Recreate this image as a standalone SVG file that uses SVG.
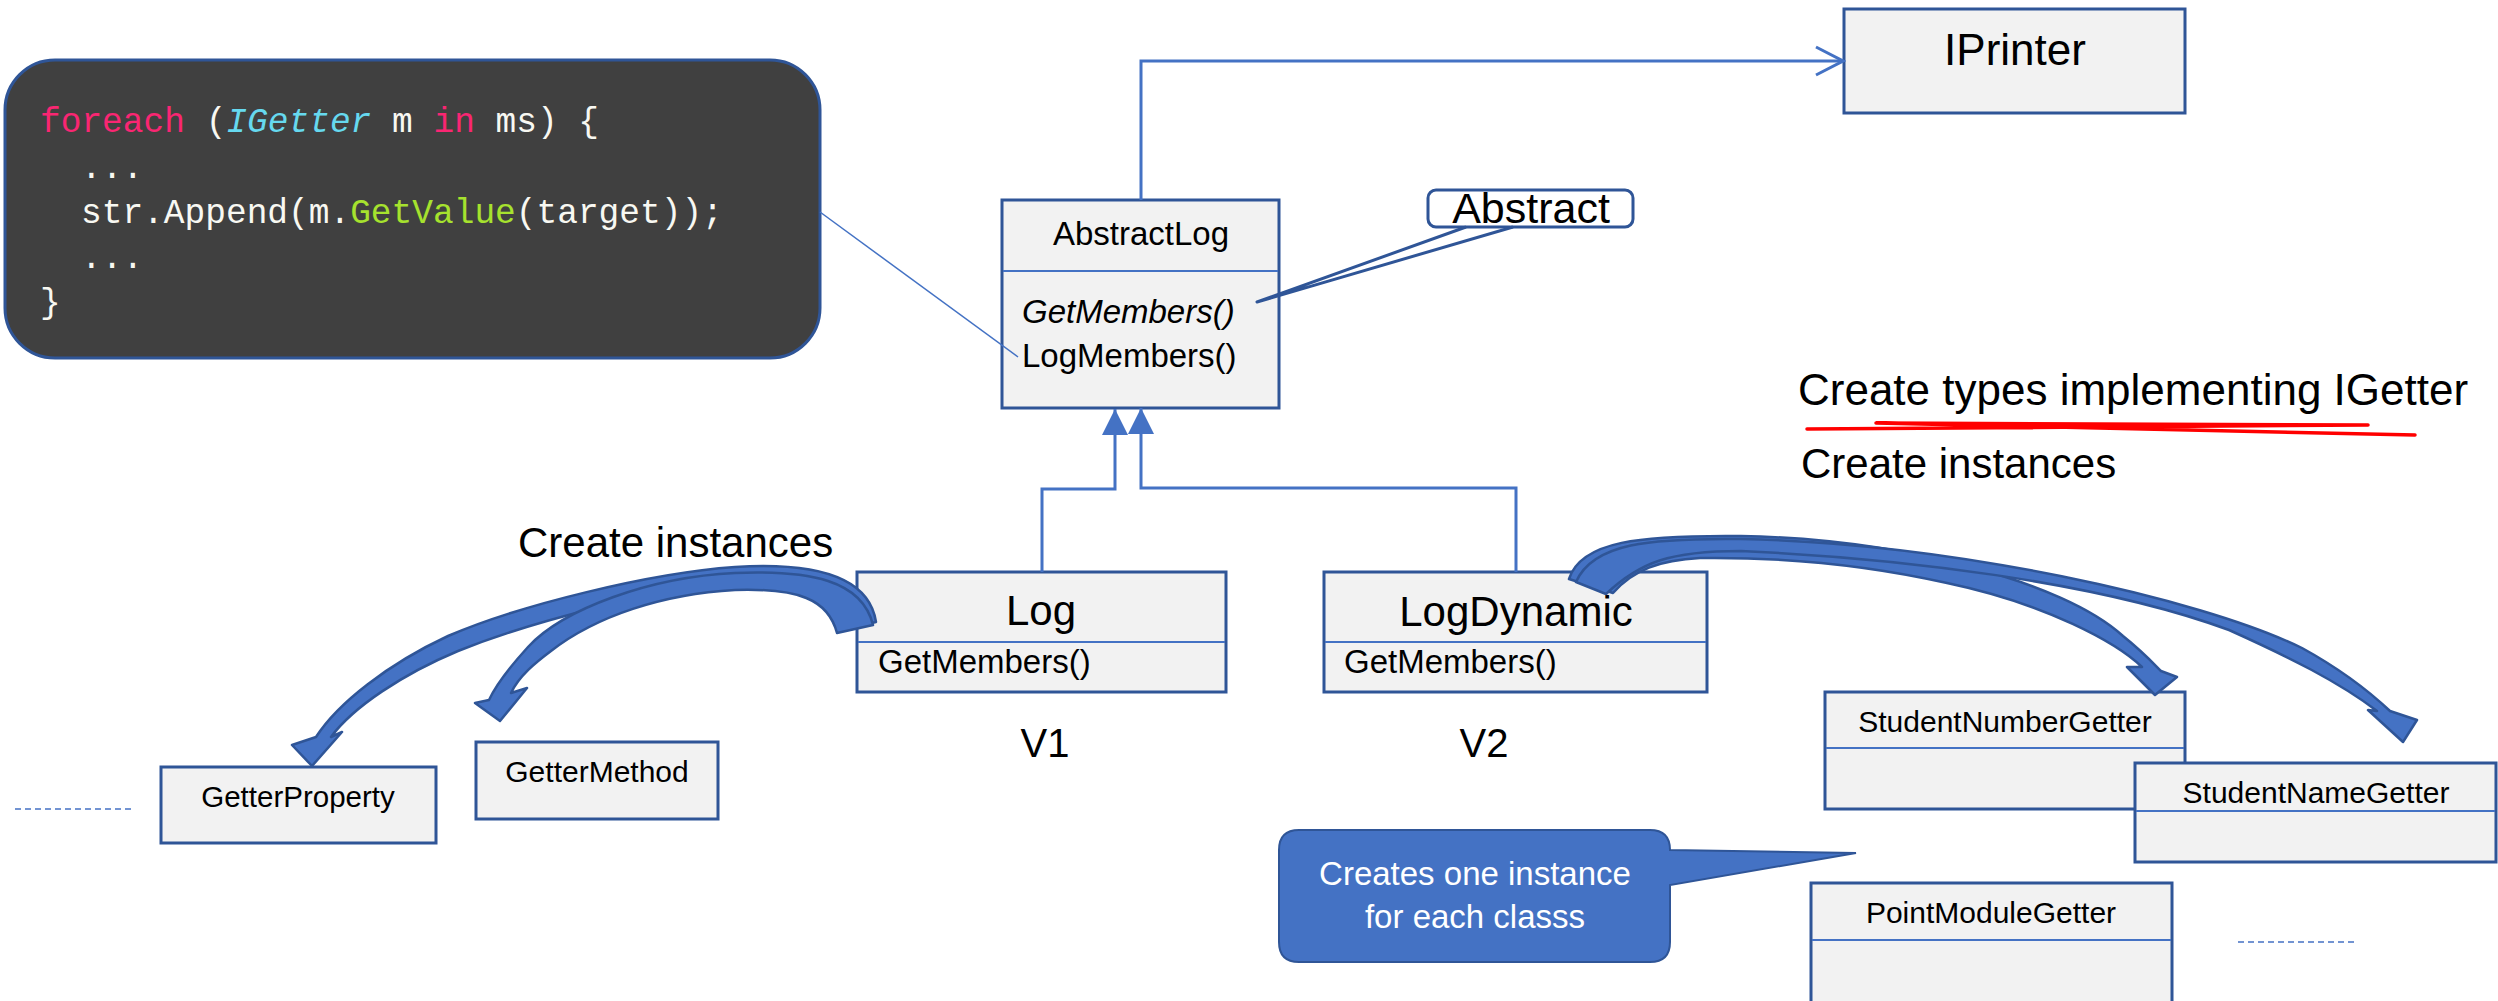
<svg xmlns="http://www.w3.org/2000/svg" width="2498" height="1001" viewBox="0 0 2498 1001">
<defs>
<style>
.box{fill:#F2F2F2;stroke:#2F5597;stroke-width:3}
.dv{stroke:#4472C4;stroke-width:2}
.t{font-family:"Liberation Sans",Arial,sans-serif;fill:#000}
.mid{text-anchor:middle}
.conn{fill:none;stroke:#4472C4;stroke-width:3}
.blk{fill:#4472C4;stroke:#2F5597;stroke-width:2.5;stroke-linejoin:round}
.code{font-family:"Liberation Mono","DejaVu Sans Mono",monospace;font-size:34.5px;fill:#F8F8F2}
.kw{fill:#F92672}
.ty{fill:#66D9EF;font-style:italic}
.fn{fill:#A6E22E}
.dash{stroke:#4472C4;stroke-width:1.5;stroke-dasharray:6 4;fill:none}
</style>
<marker id="tri" markerWidth="26" markerHeight="26" refX="26" refY="13" orient="auto" markerUnits="userSpaceOnUse">
<path d="M0,0 L26,13 L0,26 Z" fill="#4472C4"/>
</marker>
<marker id="open" markerWidth="32" markerHeight="32" refX="29" refY="16" orient="auto" markerUnits="userSpaceOnUse">
<path d="M2,2 L29,16 L2,30" fill="none" stroke="#4472C4" stroke-width="3"/>
</marker>
</defs>
<rect width="2498" height="1001" fill="#fff"/>

<g id="code">
<rect x="5" y="60" width="815" height="298" rx="50" fill="#404040" stroke="#2F5597" stroke-width="3"/>
<text class="code" x="40" y="132"><tspan class="kw">foreach</tspan> (<tspan class="ty">IGetter</tspan> m <tspan class="kw">in</tspan> ms) {</text>
<text class="code" x="81" y="178">...</text>
<text class="code" x="81" y="223">str.Append(m.<tspan class="fn">GetValue</tspan>(target));</text>
<text class="code" x="81" y="268">...</text>
<text class="code" x="40" y="313">}</text>
</g>

<g id="IPrinter">
<rect class="box" x="1844" y="9" width="341" height="104"/>
<text class="t mid" x="2015" y="65" font-size="44">IPrinter</text>
</g>

<g id="AbstractLog">
<rect class="box" x="1002" y="200" width="277" height="208"/>
<line class="dv" x1="1003" y1="271" x2="1278" y2="271"/>
<text class="t mid" x="1141" y="245" font-size="33">AbstractLog</text>
<text class="t" x="1022" y="323" font-size="33" font-style="italic">GetMembers()</text>
<text class="t" x="1022" y="367" font-size="33">LogMembers()</text>
</g>

<g id="AbstractNote">
<rect x="1428" y="190" width="205" height="37" rx="8" fill="#fff" stroke="#2F5597" stroke-width="3"/>
<text class="t mid" x="1531" y="223" font-size="43">Abstract</text>
<path d="M1466,227 L1257,302 L1513,227" fill="none" stroke="#2F5597" stroke-width="3" stroke-linejoin="round"/>
</g>

<g id="Log">
<rect class="box" x="857" y="572" width="369" height="120"/>
<line class="dv" x1="858" y1="642" x2="1225" y2="642"/>
<text class="t mid" x="1041" y="625" font-size="42">Log</text>
<text class="t" x="878" y="673" font-size="33">GetMembers()</text>
</g>

<g id="LogDynamic">
<rect class="box" x="1324" y="572" width="383" height="120"/>
<line class="dv" x1="1325" y1="642" x2="1706" y2="642"/>
<text class="t mid" x="1516" y="626" font-size="42">LogDynamic</text>
<text class="t" x="1344" y="673" font-size="33">GetMembers()</text>
</g>

<g id="labels">
<text class="t mid" x="1045" y="757" font-size="40">V1</text>
<text class="t mid" x="1484" y="757" font-size="40">V2</text>
<text class="t" x="518" y="557" font-size="42">Create instances</text>
<text class="t" x="1798" y="405" font-size="44">Create types implementing IGetter</text>
<path d="M1807,429 L2368,425 L1876,423 L2415,435" fill="none" stroke="#FF0000" stroke-width="3.5" stroke-linecap="round" stroke-linejoin="round"/>
<text class="t" x="1801" y="478" font-size="42">Create instances</text>
<line class="dash" x1="15" y1="809" x2="134" y2="809"/>
<line class="dash" x1="2238" y1="942" x2="2356" y2="942"/>
</g>

<g id="GetterProperty">
<rect class="box" x="161" y="767" width="275" height="76"/>
<text class="t mid" x="298" y="807" font-size="29.5">GetterProperty</text>
</g>

<g id="GetterMethod">
<rect class="box" x="476" y="742" width="242" height="77"/>
<text class="t mid" x="597" y="782" font-size="30">GetterMethod</text>
</g>

<g id="StudentNumberGetter">
<rect class="box" x="1825" y="692" width="360" height="117"/>
<line class="dv" x1="1826" y1="748" x2="2184" y2="748"/>
<text class="t mid" x="2005" y="732" font-size="30">StudentNumberGetter</text>
</g>

<g id="StudentNameGetter">
<rect class="box" x="2135" y="763" width="361" height="99"/>
<line class="dv" x1="2136" y1="811" x2="2495" y2="811"/>
<text class="t mid" x="2316" y="803" font-size="30">StudentNameGetter</text>
</g>

<g id="PointModuleGetter">
<rect class="box" x="1811" y="883" width="361" height="125"/>
<line class="dv" x1="1812" y1="940" x2="2171" y2="940"/>
<text class="t mid" x="1991" y="923" font-size="30">PointModuleGetter</text>
</g>

<g id="Callout">
<path d="M1299,830 H1650 Q1670,830 1670,850 L1856,853 L1670,885 V942 Q1670,962 1650,962 H1299 Q1279,962 1279,942 V850 Q1279,830 1299,830 Z" fill="#4472C4" stroke="#2F5597" stroke-width="2"/>
<text class="t mid" x="1475" y="885" font-size="33" style="fill:#fff">Creates one instance</text>
<text class="t mid" x="1475" y="928" font-size="33" style="fill:#fff">for each classs</text>
</g>

<g id="connectors">
<path class="conn" d="M1141,200 V61 H1843" marker-end="url(#open)"/>
<path class="conn" d="M1042,572 V489 H1115 V409" marker-end="url(#tri)"/>
<path class="conn" d="M1516,572 V488 H1141 V408" marker-end="url(#tri)"/>
<line x1="820" y1="212" x2="1018" y2="357" stroke="#4472C4" stroke-width="1.5"/>
<path class="blk" d="M876,622 C868,570 800,563 735,567 C650,573 520,605 448,636 C388,664 338,703 316,737 L292,745 L312,766 L342,732 L331,737 C353,707 403,674 458,651 C533,621 650,591 735,583 C800,579 832,589 839,631 Z"/>
<path class="blk" d="M873,625 C862,580 810,570 735,573 C650,577 563,609 528,647 C508,669 495,687 489,700 L475,703 L500,721 L527,688 L511,693 C519,676 535,663 551,651 C596,616 663,594 735,590 C798,588 828,599 837,633 Z"/>
<path class="blk" d="M1569,579 C1581,541 1640,535 1741,536 C1900,539 2063,581 2123,636 C2143,652 2153,663 2161,671 L2177,677 L2155,695 L2127,667 L2142,667 C2117,643 2047,604 1947,583 C1867,565 1780,557 1700,558 C1660,560 1633,570 1613,593 Z"/>
<path class="blk" d="M1576,582 C1593,543 1650,538 1741,539 C1950,543 2200,598 2302,648 C2342,670 2372,694 2390,711 L2417,720 L2403,742 L2368,710 L2377,711 C2339,682 2289,657 2229,630 C2099,582 1900,558 1741,551 C1670,551 1640,562 1606,594 Z"/>
</g>
</svg>
